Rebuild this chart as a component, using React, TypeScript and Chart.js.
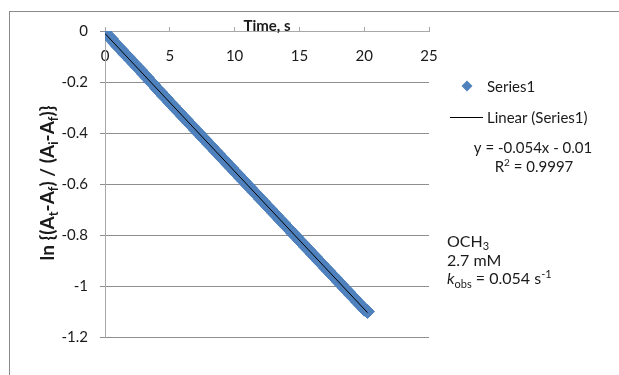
import { useEffect, useRef } from 'react';
import { Chart, registerables } from 'chart.js';

Chart.register(...registerables);

// ---------- data ----------
const timeS = [
  0, 0.25, 0.5, 0.75, 1, 1.25, 1.5, 1.75, 2, 2.25, 2.5, 2.75, 3, 3.25, 3.5, 3.75,
  4, 4.25, 4.5, 4.75, 5, 5.25, 5.5, 5.75, 6, 6.25, 6.5, 6.75, 7, 7.25, 7.5, 7.75,
  8, 8.25, 8.5, 8.75, 9, 9.25, 9.5, 9.75, 10, 10.25, 10.5, 10.75, 11, 11.25, 11.5, 11.75,
  12, 12.25, 12.5, 12.75, 13, 13.25, 13.5, 13.75, 14, 14.25, 14.5, 14.75, 15, 15.25, 15.5, 15.75,
  16, 16.25, 16.5, 16.75, 17, 17.25, 17.5, 17.75, 18, 18.25, 18.5, 18.75, 19, 19.25, 19.5, 19.75,
  20, 20.25,
];
const lnRatio = [
  0.0, -0.019, -0.031, -0.047, -0.061, -0.073, -0.089, -0.1, -0.115, -0.128, -0.142, -0.154, -0.17, -0.182, -0.198, -0.21,
  -0.226, -0.238, -0.254, -0.265, -0.281, -0.293, -0.308, -0.32, -0.335, -0.347, -0.362, -0.374, -0.389, -0.401, -0.416, -0.428,
  -0.443, -0.455, -0.47, -0.482, -0.497, -0.509, -0.524, -0.536, -0.551, -0.563, -0.578, -0.59, -0.605, -0.617, -0.632, -0.644,
  -0.659, -0.671, -0.686, -0.698, -0.713, -0.725, -0.74, -0.752, -0.767, -0.779, -0.794, -0.806, -0.821, -0.833, -0.848, -0.86,
  -0.875, -0.887, -0.902, -0.914, -0.929, -0.941, -0.956, -0.968, -0.983, -0.995, -1.01, -1.022, -1.037, -1.049, -1.064, -1.076,
  -1.091, -1.1,
];
const trendTime = [0, 20.25];
const trendLn = [-0.01, -1.104];

const xMin = 0;
const xMax = 25;
const xStep = 5;
const yMin = -1.2;
const yMax = 0;
const yStep = 0.2;

const seriesName = 'Series1';
const trendName = 'Linear (Series1)';
const equationText = 'y = -0.054x - 0.01';
const rSquaredValue = '0.9997';
const substituentBase = 'OCH';
const substituentSub = '3';
const concentrationText = '2.7 mM';
const kobsValue = '0.054';

// ---------- styles ----------
const FONT = 'Lato, "Open Sans", sans-serif';
const BLUE = '#4F81BD';
const TEXT = '#1a1a1a';
const GRID = '#8e8e8e';
const AXIS = '#a8a8a8';

type Seg = { t: string; s?: 'sub' | 'sup'; i?: boolean };

function drawRich(
  ctx: CanvasRenderingContext2D,
  segs: Seg[],
  x: number,
  y: number,
  size: number,
  weight: string,
  align: 'left' | 'center'
) {
  const fontFor = (seg: Seg) =>
    `${seg.i ? 'italic ' : ''}${weight} ${seg.s ? Math.round(size * 0.66) : size}px ${FONT}`;
  let total = 0;
  for (const seg of segs) {
    ctx.font = fontFor(seg);
    total += ctx.measureText(seg.t).width;
  }
  let cx = align === 'center' ? x - total / 2 : x;
  ctx.textAlign = 'left';
  ctx.textBaseline = 'alphabetic';
  for (const seg of segs) {
    ctx.font = fontFor(seg);
    const dy = seg.s === 'sub' ? size * 0.22 : seg.s === 'sup' ? -size * 0.36 : 0;
    ctx.fillText(seg.t, cx, y + dy);
    cx += ctx.measureText(seg.t).width;
  }
}

const overlayPlugin = {
  id: 'overlay',
  afterDraw(chart: any) {
    const ctx: CanvasRenderingContext2D = chart.ctx;
    ctx.save();
    // outer chart border
    ctx.strokeStyle = '#8a8a8a';
    ctx.lineWidth = 1;
    ctx.strokeRect(9.5, 11.5, 700, 500);

    ctx.fillStyle = TEXT;
    // x axis title
    drawRich(ctx, [{ t: 'Time, s' }], 267, 31, 15, 'bold', 'center');

    // y axis title (rotated)
    ctx.save();
    ctx.translate(54, 183);
    ctx.rotate(-Math.PI / 2);
    drawRich(
      ctx,
      [
        { t: 'ln {(A' },
        { t: 't', s: 'sub' },
        { t: '-A' },
        { t: 'f', s: 'sub' },
        { t: ') / (A' },
        { t: 'i', s: 'sub' },
        { t: '-A' },
        { t: 'f', s: 'sub' },
        { t: ')}' },
      ],
      0,
      0,
      19,
      'bold',
      'center'
    );
    ctx.restore();

    // legend: marker
    ctx.fillStyle = BLUE;
    ctx.beginPath();
    const mx = 467, my = 86, mr = 5.5;
    ctx.moveTo(mx - mr, my);
    ctx.lineTo(mx, my - mr);
    ctx.lineTo(mx + mr, my);
    ctx.lineTo(mx, my + mr);
    ctx.closePath();
    ctx.fill();
    ctx.fillStyle = TEXT;
    drawRich(ctx, [{ t: seriesName }], 487, 91.5, 15, 'normal', 'left');

    // legend: trend line
    ctx.strokeStyle = '#000';
    ctx.beginPath();
    ctx.moveTo(450, 117.5);
    ctx.lineTo(483, 117.5);
    ctx.stroke();
    drawRich(ctx, [{ t: trendName }], 487, 122.5, 15, 'normal', 'left');

    // equation
    drawRich(ctx, [{ t: equationText }], 533, 153, 15, 'normal', 'center');
    drawRich(ctx, [{ t: 'R' }, { t: '2', s: 'sup' }, { t: ' = ' + rSquaredValue }], 534, 171.5, 15, 'normal', 'center');

    // annotation
    drawRich(ctx, [{ t: substituentBase }, { t: substituentSub, s: 'sub' }], 447, 246.5, 16, 'normal', 'left');
    drawRich(ctx, [{ t: concentrationText }], 447, 265.5, 16, 'normal', 'left');
    drawRich(
      ctx,
      [{ t: 'k', i: true }, { t: 'obs', s: 'sub' }, { t: ' = ' + kobsValue + ' s' }, { t: '-1', s: 'sup' }],
      447,
      284,
      16,
      'normal',
      'left'
    );
    ctx.restore();
  },
};

export default function App() {
  const ref = useRef<HTMLCanvasElement | null>(null);

  useEffect(() => {
    if (!ref.current) return;
    Chart.defaults.font.family = FONT;
    const chart = new Chart(ref.current, {
      type: 'scatter',
      data: {
        datasets: [
          {
            label: trendName,
            data: trendTime.map((t, i) => ({ x: t, y: trendLn[i] })),
            showLine: true,
            borderColor: '#000000',
            borderWidth: 1,
            pointRadius: 0,
            order: 0,
          },
          {
            label: seriesName,
            data: timeS.map((t, i) => ({ x: t, y: lnRatio[i] })),
            pointStyle: 'rectRot',
            pointRadius: 7,
            backgroundColor: BLUE,
            borderColor: BLUE,
            pointBorderWidth: 1,
            order: 1,
          },
        ],
      },
      options: {
        responsive: false,
        animation: false,
        events: [],
        layout: { padding: { left: 0, right: 190, top: 31, bottom: 38 } },
        plugins: { legend: { display: false }, tooltip: { enabled: false }, title: { display: false } },
        scales: {
          x: {
            type: 'linear',
            position: { y: 0 } as any,
            min: xMin,
            max: xMax,
            ticks: {
              stepSize: xStep,
              color: TEXT,
              font: { size: 15, family: FONT },
              padding: 21,
              maxRotation: 0,
            },
            grid: {
              display: true,
              drawOnChartArea: false,
              drawTicks: true,
              tickLength: -5,
              color: AXIS,
            },
            border: { display: true, color: AXIS, width: 1 },
            afterFit: (scale: any) => {
              scale.height = 0;
            },
          },
          y: {
            type: 'linear',
            position: 'left',
            min: yMin,
            max: yMax,
            ticks: {
              stepSize: yStep,
              color: TEXT,
              font: { size: 15, family: FONT },
              padding: 12,
              callback: (v: any) => String(Math.round(Number(v) * 10) / 10),
            },
            grid: {
              display: true,
              drawOnChartArea: true,
              drawTicks: true,
              tickLength: 5,
              color: GRID,
            },
            border: { display: true, color: AXIS, width: 1 },
            afterFit: (scale: any) => {
              scale.width = 105;
            },
          },
        },
      },
      plugins: [overlayPlugin],
    });
    return () => chart.destroy();
  }, []);

  return (
    <div style={{ position: 'absolute', left: 0, top: 0, width: 619, height: 375, background: '#fff' }}>
      <canvas ref={ref} width={619} height={375} style={{ display: 'block' }} />
    </div>
  );
}
